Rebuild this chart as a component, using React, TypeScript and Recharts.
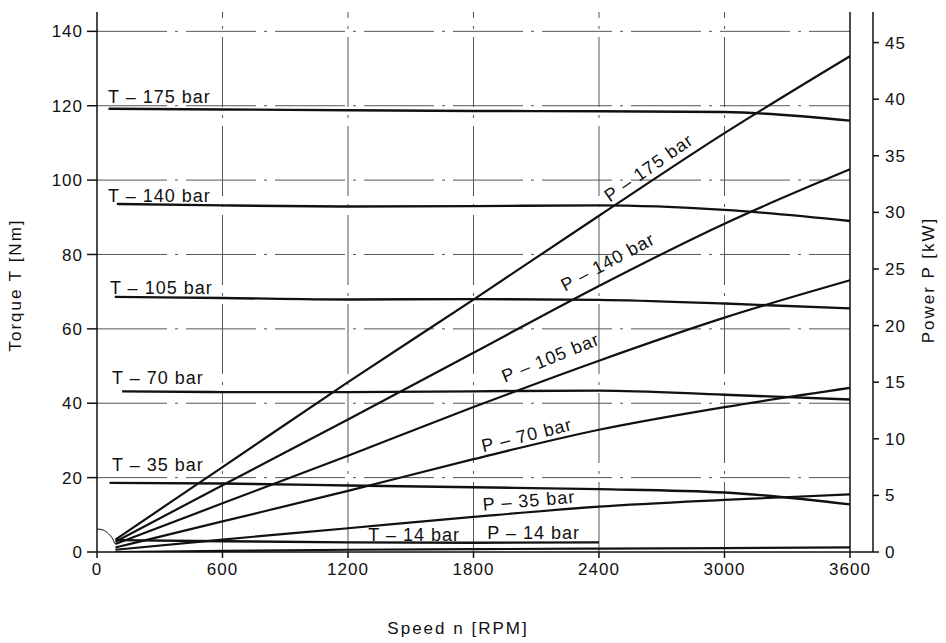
import { LineChart, Line, XAxis, YAxis, ReferenceLine, ReferenceDot } from 'recharts'

// speed points after each curve's own start speed
const speedPoints = [600, 1200, 1800, 2400, 3000, 3600]

// torque curves [Nm], first value is at the curve's start speed
const torqueStart = [55, 95, 85, 120, 60, 95]
const torque175 = [119.2, 119, 118.8, 118.6, 118.5, 118.3, 116]
const torque140 = [93.6, 93.2, 92.9, 93, 93.2, 92, 89]
const torque105 = [68.6, 68.3, 67.9, 68, 67.8, 66.8, 65.5]
const torque70 = [43.2, 43, 43, 43.2, 43.4, 42.3, 41]
const torque35 = [18.6, 18.4, 17.9, 17.4, 16.9, 16, 12.8]
const torque14 = [3.2, 2.9, 2.6, 2.5, 2.6]

// power curves [kW]
const powerStart = 88
const power175 = [1.1, 7.5, 15, 22.3, 29.7, 37, 43.8]
const power140 = [0.9, 5.9, 11.7, 17.6, 23.5, 29, 33.8]
const power105 = [0.7, 4.3, 8.5, 12.8, 16.9, 20.7, 24]
const power70 = [0.4, 2.7, 5.4, 8.2, 10.8, 12.8, 14.5]
const power35 = [0.2, 1.1, 2.1, 3.1, 4.0, 4.6, 5.1]
const power14 = [0, 0.1, 0.2, 0.25, 0.3, 0.35, 0.4]

// little start arc near the origin
const arcRpm = [0, 30, 55, 75, 86]
const arcTorque = [6.2, 5.9, 4.9, 3.5, 2.2]

const xTicks = [0, 600, 1200, 1800, 2400, 3000, 3600]
const torqueTicks = [0, 20, 40, 60, 80, 100, 120, 140]
const powerTicks = [0, 5, 10, 15, 20, 25, 30, 35, 40, 45]
const gridSpeeds = [600, 1200, 1800, 2400, 3000]
const gridTorques = [20, 40, 60, 80, 100, 120, 140]

// curve labels (position in rpm / Nm)
const labelTexts = ['T – 175 bar', 'T – 140 bar', 'T – 105 bar', 'T – 70 bar', 'T – 35 bar', 'T – 14 bar',
  'P – 175 bar', 'P – 140 bar', 'P – 105 bar', 'P – 70 bar', 'P – 35 bar', 'P – 14 bar']
const labelRpm = [53, 53, 62, 72, 72, 1297, 2452, 2237, 1950, 1847, 1847, 1866]
const labelNm = [120.7, 94.2, 69.5, 45.1, 21.7, 2.9, 94.0, 70.0, 45.5, 26.8, 11.1, 3.5]
const labelAngle = [0, 0, 0, 0, 0, 0, -35, -28, -22, -14, -5, 0]

const X_MAX = 3710
const T_MAX = 145.2
const P_MAX = 47.7
const FONT = '"Liberation Sans", Arial, sans-serif'
const INK = '#111'

const toSeries = (start: number, values: number[]) =>
  [{ rpm: start, v: values[0] }, ...values.slice(1).map((v, i) => ({ rpm: speedPoints[i], v }))]

const torqueCurves = [torque175, torque140, torque105, torque70, torque35, torque14]
  .map((vals, i) => toSeries(torqueStart[i], vals))
const powerCurves = [power175, power140, power105, power70, power35, power14]
  .map(vals => toSeries(powerStart, vals))
const arcData = arcRpm.map((rpm, i) => ({ rpm, v: arcTorque[i] }))

function CurveLabel(props: any) {
  const { cx, cy, text, angle } = props
  return (
    <text x={cx} y={cy} transform={`rotate(${angle} ${cx} ${cy})`} fontFamily={FONT}
      fontSize={18} letterSpacing={1} fill={INK}>
      {text}
    </text>
  )
}

const tickStyle = { fontSize: 17, fill: INK, fontFamily: FONT, letterSpacing: 1 }

export default function App() {
  return (
    <div style={{ position: 'absolute', left: 0, top: 0, width: 946, height: 643, background: '#fff' }}>
      <LineChart width={946} height={643} margin={{ top: 12, right: 23, bottom: 51, left: 37 }}>
        <XAxis type="number" dataKey="rpm" domain={[0, X_MAX]} ticks={xTicks} allowDataOverflow
          tick={tickStyle} tickSize={6} tickMargin={5} stroke={INK} strokeWidth={1.5} height={40} />
        <YAxis yAxisId="t" type="number" domain={[0, T_MAX]} ticks={torqueTicks} allowDataOverflow
          tick={tickStyle} tickSize={10} tickMargin={4} stroke={INK} strokeWidth={1.5} width={60} />
        <YAxis yAxisId="p" orientation="right" type="number" domain={[0, P_MAX]} ticks={powerTicks} allowDataOverflow
          tick={tickStyle} tickSize={6} tickMargin={6} stroke={INK} strokeWidth={1.5} width={50} />

        {gridTorques.map(v => (
          <ReferenceLine key={'h' + v} yAxisId="t" segment={[{ x: 0, y: v }, { x: 3600, y: v }]}
            stroke="#555" strokeWidth={1} strokeDasharray="70 8 3 8" />
        ))}
        {gridSpeeds.map(v => (
          <ReferenceLine key={'v' + v} yAxisId="t" segment={[{ x: v, y: 0 }, { x: v, y: T_MAX }]}
            stroke="#555" strokeWidth={1} strokeDasharray="70 8 3 8" />
        ))}
        <ReferenceLine yAxisId="t" segment={[{ x: 3600, y: 0 }, { x: 3600, y: T_MAX }]} stroke={INK} strokeWidth={1.5} />

        <Line yAxisId="t" data={arcData} dataKey="v" type="monotone" stroke={INK} strokeWidth={1}
          dot={false} isAnimationActive={false} />
        {torqueCurves.map((d, i) => (
          <Line key={'t' + i} yAxisId="t" data={d} dataKey="v" type="monotone" stroke={INK}
            strokeWidth={2.4} dot={false} isAnimationActive={false} />
        ))}
        {powerCurves.map((d, i) => (
          <Line key={'p' + i} yAxisId="p" data={d} dataKey="v" type="monotone" stroke={INK}
            strokeWidth={2.2} dot={false} isAnimationActive={false} />
        ))}

        {labelTexts.map((text, i) => (
          <ReferenceDot key={'l' + i} yAxisId="t" x={labelRpm[i]} y={labelNm[i]} r={0} ifOverflow="visible"
            shape={(p: any) => <CurveLabel {...p} text={text} angle={labelAngle[i]} />} />
        ))}
      </LineChart>
      <svg width={946} height={643} style={{ position: 'absolute', left: 0, top: 0, pointerEvents: 'none' }}>
        <text x={458} y={634} textAnchor="middle" fontFamily={FONT} fontSize={17} letterSpacing={2} fill={INK}>
          Speed n [RPM]
        </text>
        <text x={21} y={285} textAnchor="middle" transform="rotate(-90 21 285)" fontFamily={FONT}
          fontSize={17} letterSpacing={2} fill={INK}>
          Torque T [Nm]
        </text>
        <text x={934} y={280} textAnchor="middle" transform="rotate(-90 934 280)" fontFamily={FONT}
          fontSize={17} letterSpacing={2} fill={INK}>
          Power P [kW]
        </text>
      </svg>
    </div>
  )
}
